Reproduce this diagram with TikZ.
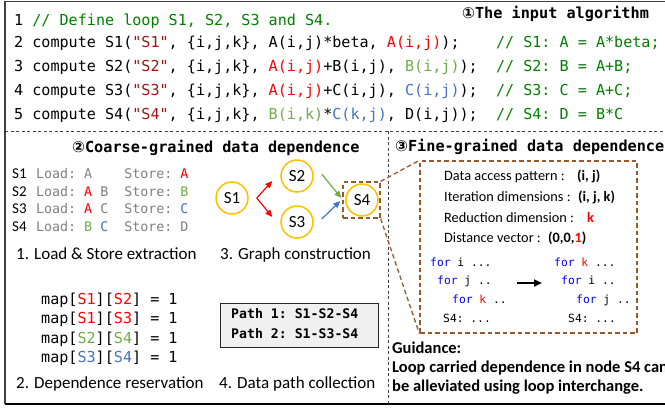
\documentclass[tikz,border=0pt]{standalone}
\usepackage{fontspec}
\setmainfont{Carlito}
\setmonofont{DejaVu Sans Mono}
\newfontfamily\djv{DejaVu Sans}
\usetikzlibrary{arrows.meta}
\definecolor{cstr}{RGB}{163,21,21}
\definecolor{ccom}{RGB}{0,128,0}
\definecolor{cgrn}{RGB}{112,173,71}
\definecolor{cblu}{RGB}{68,114,196}
\definecolor{cred}{RGB}{255,0,0}
\definecolor{cbrown}{RGB}{150,90,45}
\definecolor{cyel}{RGB}{255,192,0}
\definecolor{cgray}{RGB}{128,128,128}
\definecolor{cfor}{RGB}{0,0,255}
\definecolor{cframe}{RGB}{64,64,64}
\tikzset{
  code/.style={anchor=base west, inner sep=0pt, font=\ttfamily\fontsize{15.1}{18}\selectfont},
  ttl/.style={anchor=base west, inner sep=0pt, font=\ttfamily\bfseries\fontsize{15.2}{18}\selectfont},
  capt/.style={anchor=base west, inner sep=0pt, font=\fontsize{17}{20}\selectfont},
  lst/.style={anchor=base west, inner sep=0pt, font=\ttfamily\fontsize{13.3}{16}\selectfont},
  slab/.style={anchor=base west, inner sep=0pt, font=\fontsize{15}{18}\selectfont},
  stmt/.style={circle, draw=cyel, line width=1.5pt, minimum size=32pt, inner sep=0pt, font=\fontsize{17}{20}\selectfont},
  info/.style={anchor=base west, inner sep=0pt, font=\fontsize{14.3}{17}\selectfont},
  infob/.style={anchor=base west, inner sep=0pt, font=\bfseries\fontsize{14.3}{17}\selectfont},
  loopc/.style={anchor=base west, inner sep=0pt, font=\ttfamily\fontsize{11.3}{14}\selectfont},
  guid/.style={anchor=base west, inner sep=0pt, font=\bfseries\fontsize{16.5}{19}\selectfont},
  pth/.style={anchor=base west, inner sep=0pt, font=\ttfamily\bfseries\fontsize{13.2}{16}\selectfont},
  depar/.style={line width=1.2pt, -{Triangle[length=7pt,width=6pt]}},
  sepline/.style={cframe, line width=0.9pt, dash pattern=on 3pt off 2.5pt},
  brbox/.style={draw=cbrown, line width=1.3pt, dash pattern=on 4.5pt off 3pt, inner sep=0pt},
  brline/.style={cbrown, line width=1.3pt, dash pattern=on 4.5pt off 3pt},
}
\begin{document}
\begin{tikzpicture}[x=1pt,y=-1pt]
\clip (0,0) rectangle (665,408);
\fill[white] (0,0) rectangle (665,408);
% frame
\draw[cframe, line width=1.3pt] (665,1.5) -- (5,1.5) -- (5,404);
\draw[black, line width=2.2pt] (5,404) -- (665,404);
\draw[sepline] (5,131) -- (665,131);
\draw[sepline] (388,131) -- (388,404);

% section 1: code
\node[ttl] (t1) at (462,18) {{\djv ①}The input algorithm};
\node[code] (c1) at (14,25) {1 \textcolor{ccom}{// Define loop S1, S2, S3 and S4.}};
\node[code] (c2) at (14,47) {2 compute S1(\textcolor{cstr}{"S1"}, \{i,j,k\}, A(i,j)*beta, \textcolor{cred}{A(i,j)});~~~~\textcolor{ccom}{// S1: A = A*beta;}};
\node[code] (c3) at (14,71) {3 compute S2(\textcolor{cstr}{"S2"}, \{i,j,k\}, \textcolor{cred}{A(i,j)}+B(i,j), \textcolor{cgrn}{B(i,j)});~~\textcolor{ccom}{// S2: B = A+B;}};
\node[code] (c4) at (14,95) {4 compute S3(\textcolor{cstr}{"S3"}, \{i,j,k\}, \textcolor{cred}{A(i,j)}+C(i,j), \textcolor{cblu}{C(i,j)});~~\textcolor{ccom}{// S3: C = A+C;}};
\node[code] (c5) at (14,119) {5 compute S4(\textcolor{cstr}{"S4"}, \{i,j,k\}, \textcolor{cgrn}{B(i,k)}*\textcolor{cblu}{C(k,j)}, D(i,j));~~\textcolor{ccom}{// S4: D = B*C}};

% section 2
\node[ttl] (t2) at (72,152) {{\djv ②}Coarse-grained data dependence};
\node[slab] (r1) at (12,178) {S1};
\node[slab] (r2) at (12,196) {S2};
\node[slab] (r3) at (12,213.5) {S3};
\node[slab] (r4) at (12,231) {S4};
\node[lst] (l1) at (36,178) {\textcolor{cgray}{Load: A~~~~Store:} \textcolor{cred}{A}};
\node[lst] (l2) at (36,196) {\textcolor{cgray}{Load:} \textcolor{cred}{A} \textcolor{cgray}{B~~Store:} \textcolor{cgrn}{B}};
\node[lst] (l3) at (36,213.5) {\textcolor{cgray}{Load:} \textcolor{cred}{A} \textcolor{cgray}{C~~Store:} \textcolor{cblu}{C}};
\node[lst] (l4) at (36,231) {\textcolor{cgray}{Load:} \textcolor{cgrn}{B} \textcolor{cblu}{C}~~\textcolor{cgray}{Store: D}};
\node[capt] (k1) at (16,259) {1. Load \& Store extraction};

\node[stmt] (S1) at (232,198) {S1};
\node[stmt] (S2) at (297,176) {S2};
\node[stmt] (S3) at (297,222) {S3};
\node[stmt] (S4) at (362,200) {S4};
\coordinate (fork) at ([shift={(8,0)}]S1.east);
\draw[depar, cred] (fork) -- ([shift={(-8,5)}]S2.west);
\draw[depar, cred] (fork) -- ([shift={(-8,-5)}]S3.west);
\draw[depar, cgrn] ([shift={(8,-2)}]S2.east) -- ([shift={(-4,-2)}]S4.west);
\draw[depar, cblu] ([shift={(8,-3)}]S3.east) -- ([shift={(-5,1)}]S4.west);
\node[capt] (k3) at (220,259) {3. Graph construction};

\node[code] (m1) at (41,304) {map[\textcolor{cred}{S1}][\textcolor{cred}{S2}] = 1};
\node[code] (m2) at (41,323.5) {map[\textcolor{cred}{S1}][\textcolor{cred}{S3}] = 1};
\node[code] (m3) at (41,343) {map[\textcolor{cgrn}{S2}][\textcolor{cgrn}{S4}] = 1};
\node[code] (m4) at (41,362.5) {map[\textcolor{cblu}{S3}][\textcolor{cblu}{S4}] = 1};
\node[capt] (k2) at (16,388) {2. Dependence reservation};

\node[draw=black!85, fill=black!6, line width=1pt, minimum width=158pt, minimum height=44pt, inner sep=0pt] (pbox) at (299,325) {};
\node[pth] (p1) at (231,318) {Path 1: S1-S2-S4};
\node[pth] (p2) at (231,338) {Path 2: S1-S3-S4};
\node[capt] (k4) at (219,388) {4. Data path collection};

% section 3
\node[ttl] (t3) at (395,151) {{\djv ③}Fine-grained data dependence};
\node[brbox, minimum width=37pt, minimum height=36pt] (s4box) at (361.5,200) {};
\node[brbox, minimum width=217pt, minimum height=172pt] (fg) at (528.5,247) {};
\draw[brline] (s4box.north east) -- (fg.north west);
\draw[brline] (s4box.south east) -- (fg.south west);

\node[info] (i1) at (444,180) {Data access pattern :};
\node[infob] (v1) at (577,180) {(i, j)};
\node[info] (i2) at (444,201) {Iteration dimensions :};
\node[infob] (v2) at (578,201) {(i, j, k)};
\node[info] (i3) at (444,222) {Reduction dimension :};
\node[infob, text=cred] (v3) at (587,222) {k};
\node[info] (i4) at (444,242) {Distance vector :};
\node[infob] (v4) at (548,242) {(0,0,\textcolor{cred}{1})};

\node[loopc] (a1) at (430,266) {\textcolor{cfor}{for} i ...};
\node[loopc] (a2) at (437,284.5) {\textcolor{cfor}{for} j ..};
\node[loopc] (a3) at (452,303) {\textcolor{cfor}{for} \textcolor{cred}{k} ..};
\node[loopc] (a4) at (443,322) {S4: ...};
\node[loopc] (b1) at (554,266) {\textcolor{cfor}{for} \textcolor{cred}{k} ...};
\node[loopc] (b2) at (561,284.5) {\textcolor{cfor}{for} i ..};
\node[loopc] (b3) at (576,303) {\textcolor{cfor}{for} j ..};
\node[loopc] (b4) at (568,322) {S4: ...};
\coordinate (ar1) at (517,283);
\coordinate (ar2) at (542,283);
\draw[line width=2pt, -{Triangle[length=8pt,width=7pt]}] (ar1) -- (ar2);

\node[guid] (g1) at (392,353) {Guidance:};
\node[guid] (g2) at (392,372) {Loop carried dependence in node S4 can};
\node[guid] (g3) at (392,391) {be alleviated using loop interchange.};
\end{tikzpicture}
\end{document}
